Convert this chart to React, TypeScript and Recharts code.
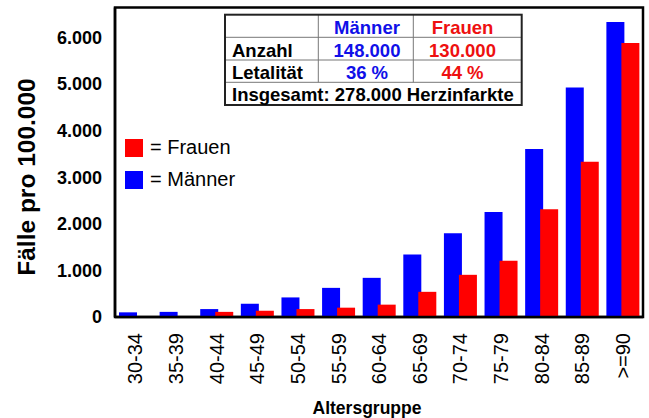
import React from 'react';
import { BarChart, Bar, XAxis, YAxis, ReferenceArea, Legend, Customized } from 'recharts';

const BLUE = '#0000ff';
const RED = '#ff0000';
const FONT = '"Liberation Sans", Arial, Helvetica, sans-serif';

const categories = ['30-34', '35-39', '40-44', '45-49', '50-54', '55-59', '60-64', '65-69', '70-74', '75-79', '80-84', '85-89', '>=90'];
const maenner = [100, 110, 170, 285, 420, 625, 840, 1340, 1795, 2255, 3605, 4925, 6330];
const frauen = [0, 0, 110, 135, 170, 200, 265, 540, 905, 1205, 2313, 3332, 5880];
const yTicks = [0, 1000, 2000, 3000, 4000, 5000, 6000];
const yMax = 6640;

const tableHeader = ['', 'Männer', 'Frauen'];
const tableRows = [
  ['Anzahl', '148.000', '130.000'],
  ['Letalität', '36 %', '44 %'],
];
const tableTotal = 'Insgesamt: 278.000 Herzinfarkte';

const legendItems = [
  { label: '= Frauen', color: RED },
  { label: '= Männer', color: BLUE },
];

const yTitle = 'Fälle pro 100.000';
const xTitle = 'Altersgruppe';

const data = categories.map((c, i) => ({ cat: c, m: maenner[i], f: frauen[i] }));

const fmt = (v: number) => String(v).replace(/\B(?=(\d{3})+(?!\d))/g, '.');

const XTick = (props: any) => {
  const { x, y, payload } = props;
  return (
    <text
      x={x}
      y={y + 8}
      transform={`rotate(-90 ${x} ${y + 8})`}
      textAnchor="end"
      dy="0.36em"
      fontFamily={FONT}
      fontSize={20}
      fill="#000"
    >
      {payload.value}
    </text>
  );
};

const InfoTable = () => {
  const left = 225;
  const right = 521.7;
  const top = 14.7;
  const rowsY = [14.7, 37.3, 60, 82.3, 105];
  const colX = [225, 318.3, 413.3, 521.7];
  const textX = [232, 367, 462.5];
  const colColors = ['#000', '#1010e8', '#ee1010'];
  const baselines = [34, 56.5, 78.5, 100.5];
  const rows = [tableHeader, ...tableRows];
  return (
    <g fontFamily={FONT} fontWeight="bold" fontSize={18.5}>
      <rect x={left} y={top} width={right - left} height={105 - top} fill="#fff" stroke="none" />
      {rowsY.slice(1, 4).map((yy, i) => (
        <line key={'h' + i} x1={left} x2={right} y1={yy} y2={yy} stroke="#777" strokeWidth={1} />
      ))}
      {colX.slice(1, 3).map((xx, i) => (
        <line key={'v' + i} x1={xx} x2={xx} y1={top} y2={rowsY[3]} stroke="#777" strokeWidth={1} />
      ))}
      <rect x={left} y={top} width={right - left} height={105 - top} fill="none" stroke="#222" strokeWidth={2} />
      {rows.map((r, ri) =>
        r.map((cell, ci) => (
          <text
            key={ri + '-' + ci}
            x={textX[ci]}
            y={baselines[ri]}
            textAnchor={ci === 0 ? 'start' : 'middle'}
            fill={colColors[ci]}
          >
            {cell}
          </text>
        ))
      )}
      <text x={232} y={baselines[3]} fill="#000">{tableTotal}</text>
    </g>
  );
};

const LegendContent = () => (
  <div style={{ fontFamily: FONT, fontSize: 20, color: '#000' }}>
    {legendItems.map((it) => (
      <div key={it.label} style={{ display: 'flex', alignItems: 'center', height: 31.7 }}>
        <div style={{ width: 18, height: 18, background: it.color, marginRight: 7 }} />
        <span style={{ whiteSpace: 'nowrap' }}>{it.label}</span>
      </div>
    ))}
  </div>
);

export default function App() {
  return (
    <div style={{ position: 'absolute', left: 0, top: 0, width: 649, height: 418, background: '#fff' }}>
      <BarChart
        width={649}
        height={418}
        data={data}
        margin={{ top: 7.5, right: 6, left: 0, bottom: 0 }}
        barSize={18}
        barGap={-3}
      >
        <XAxis
          dataKey="cat"
          height={101}
          tickLine={false}
          axisLine={{ stroke: '#000', strokeWidth: 2.5 }}
          tick={<XTick />}
          interval={0}
          label={{
            content: () => (
              <text x={367} y={414} textAnchor="middle" fontFamily={FONT} fontWeight="bold" fontSize={17.5} fill="#000">
                {xTitle}
              </text>
            ),
          }}
        />
        <YAxis
          width={115}
          domain={[0, yMax]}
          ticks={yTicks}
          tickFormatter={fmt}
          tickLine={false}
          tickMargin={7}
          axisLine={{ stroke: '#000', strokeWidth: 2.5 }}
          tick={{ fontFamily: FONT, fontWeight: 'bold', fontSize: 18, fill: '#000' }}
          label={{
            content: () => (
              <text
                x={26}
                y={177}
                transform="rotate(-90 26 177)"
                textAnchor="middle"
                dy="0.36em"
                fontFamily={FONT}
                fontWeight="bold"
                fontSize={24.5}
                fill="#000"
              >
                {yTitle}
              </text>
            ),
          }}
        />
        <Bar dataKey="m" fill={BLUE} isAnimationActive={false} />
        <Bar dataKey="f" fill={RED} isAnimationActive={false} />
        <ReferenceArea y1={0} y2={yMax} fill="none" fillOpacity={0} stroke="#000" strokeWidth={2.5} ifOverflow="visible" />
        <Customized component={<InfoTable />} />
        <Legend
          layout="vertical"
          align="center"
          verticalAlign="middle"
          content={<LegendContent />}
          wrapperStyle={{ left: 125, top: 132, width: 150, height: 64 }}
        />
      </BarChart>
    </div>
  );
}
